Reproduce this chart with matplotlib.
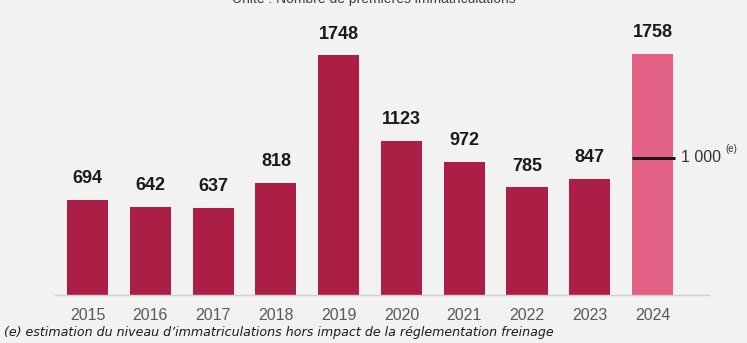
import matplotlib.pyplot as plt

# Data
years = ['2015', '2016', '2017', '2018', '2019', '2020', '2021', '2022', '2023', '2024']
values = [694, 642, 637, 818, 1748, 1123, 972, 785, 847, 1758]
estimate_2024 = 1000

bg = '#f2f2f2'
dark = '#ab1e46'
light = '#e36087'
colors = [dark] * 9 + [light]

plt.rcParams['font.family'] = ['Liberation Sans', 'DejaVu Sans']

fig = plt.figure(figsize=(7.47, 3.43), dpi=100, facecolor=bg)
ax = fig.add_axes([55 / 747, (343 - 295) / 343, (709 - 55) / 747, 260 / 343])
ax.set_facecolor(bg)

x = list(range(len(years)))
ax.bar(x, values, width=0.655, color=colors, edgecolor='none')
ax.set_xlim(-0.52, 9.9)
ax.set_ylim(0, 1748 / 240 * 260)

for xi, v in zip(x, values):
    ax.text(xi, v + 90, str(v), ha='center', va='bottom', fontsize=13,
            fontweight='bold', color='#1a1a1a')

# estimated level line for 2024
ax.plot([8.67, 9.36], [estimate_2024, estimate_2024], color='#1a1a1a', lw=2.2, solid_capstyle='butt')
ax.annotate('1 000', (9.45, estimate_2024), ha='left', va='center', fontsize=11.5, color='#333333')
ax.annotate('(e)', (9.45, estimate_2024), xytext=(32, 3), textcoords='offset points',
            ha='left', va='bottom', fontsize=7, color='#333333')

ax.spines[['top', 'right', 'left']].set_visible(False)
ax.spines['bottom'].set_color('#d0d0d0')
ax.spines['bottom'].set_linewidth(1)
ax.yaxis.set_visible(False)
ax.set_xticks(x)
ax.set_xticklabels(years, fontsize=11.5, color='#595959')
ax.tick_params(axis='x', length=0, pad=9)

# title, cut by the top edge like in the reference
fig.text(0.5, 1.004, 'Unité : Nombre de premières immatriculations', ha='center', va='center',
         fontsize=10, color='#404040')
fig.text(0.006, 0.012, "(e) estimation du niveau d\u2019immatriculations hors impact de la réglementation freinage",
         ha='left', va='bottom', fontsize=9.1, style='italic', color='#1a1a1a', family='DejaVu Sans')

fig.savefig('out.png', dpi=100, facecolor=bg)
